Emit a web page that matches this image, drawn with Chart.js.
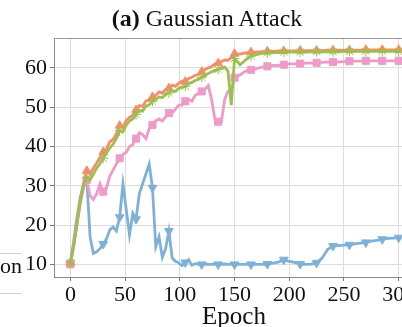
<!DOCTYPE html>
<html><head><meta charset="utf-8">
<script src="https://cdn.jsdelivr.net/npm/chart.js@4/dist/chart.umd.min.js"></script>
<style>
html,body{margin:0;padding:0;background:#fff;overflow:hidden;width:402px;height:327px}
#wrap{position:relative;width:402px;height:327px;overflow:hidden}
canvas{position:absolute;left:0;top:0}
#title{position:absolute;left:0;width:414px;top:5px;text-align:center;font-family:"Liberation Serif",serif;font-size:24px;line-height:26px;color:#111;white-space:nowrap}
#leg{position:absolute;left:-40px;top:253px;width:61px;height:39px;border-top:1px solid #d0d0d0;border-bottom:1px solid #d0d0d0}
#legtxt{position:absolute;left:0;top:254px;font-family:"Liberation Serif",serif;font-size:22px;line-height:24px;color:#111}
</style></head>
<body><div id="wrap">
<canvas id="c" width="420" height="327"></canvas>
<div id="title"><b>(a)</b> Gaussian Attack</div>
<div id="leg"></div><div id="legtxt">on</div>
</div>
<script>
const epochs=[0,3,6,9,12,15,18,21,24,27,30,33,36,39,42,45,48,51,54,57,60,63,66,69,72,75,78,81,84,87,90,93,96,99,102,105,108,111,114,117,120,123,126,129,132,135,138,141,144,147,150,155,160,165,170,175,180,185,190,195,200,205,210,215,220,225,230,235,240,245,250,255,260,265,270,275,280,285,290,295,300];
const orangeVals=[10.4,15,20.5,26,30.5,33.8,33,34.5,35.8,37.2,38.6,39.4,41.2,41.8,43.2,45.3,45,46.6,47.4,47.9,49.3,50.4,50.2,51.6,51.8,52.6,53,53.9,53.6,54.5,54.8,55.6,55.3,56.1,56.6,56.5,57.3,57.6,58.1,58.3,59,59.6,60,60.3,61,61.2,61.6,62,61.9,62.6,63.6,63.5,63.8,64,64,64.1,64.2,64.2,64.3,64.3,64.3,64.3,64.4,64.4,64.4,64.4,64.4,64.5,64.5,64.5,64.5,64.5,64.5,64.5,64.6,64.6,64.6,64.6,64.6,64.6,64.6];
const greenVals=[10.4,15,20.5,26,30,32,31.5,33,34.5,35.6,37,38.4,39.6,40.6,42,44,43.8,45.4,46.5,47,48.1,49.2,49,50.3,50.6,51.5,52,52.6,52.4,53.3,53.6,54.2,54,54.8,55.1,55.3,56,56.3,56.8,57.1,57.6,58,58.6,59,59.3,59.6,60,60.2,59.2,50.5,62.4,60.8,62,63,63.4,63.7,63.8,63.9,63.9,64,64,64,64,64,64.1,64.1,64.1,64.1,64.1,64.1,64.2,64.2,64.2,64.2,64.2,64.2,64.2,64.2,64.2,64.2,64.2];
const pinkVals=[10,14.5,20,25.5,29.5,31.5,27.5,26.5,28,30.5,28.5,29.5,32.5,34,35.5,37,38,38.5,40,40.5,42,43.5,43,42,44.5,45.5,46.5,47,46.5,47.5,48.5,48.5,49.5,50.5,50.5,51.5,52,51.5,53,53.5,54,54.5,55.5,52,47,46.3,46.3,52,54,54.2,57.5,58.2,59.2,59.5,59.8,60.2,60.4,60.6,60.6,60.8,61,61,61.1,61.2,61.2,61.3,61.4,61.5,61.5,61.5,61.6,61.7,61.7,61.7,61.8,61.8,61.8,61.8,61.8,61.8,61.8];
const blueVals=[10.4,16,22,27,30.5,31.5,17,12.8,13.2,14,15.2,16.5,18.8,19.5,18.5,22,30.5,24,17.5,23,21.5,28,30.5,33,35.5,29.5,14.5,17,11.8,14,18.5,11.6,10.8,10.4,9.7,10.5,11.2,9.8,10.2,10,10,10.1,10,10,10.1,10,10,10.1,10,10,10,10,10,10,10,10,10.1,10.3,10.6,11.2,10.8,10.5,10.1,10,10.1,10.4,11.6,13.8,14.7,14.8,14.9,15,15.2,15.4,15.6,15.9,16.1,16.4,16.6,16.7,16.8];
const xTicks=[0,50,100,150,200,250,300];
const yTicks=[10,20,30,40,50,60];

const pts=v=>epochs.map((e,i)=>({x:e,y:v[i]}));
const mk=r=>ctx=>(epochs[ctx.dataIndex]%15===0?r:0);
function ds(label,vals,color,style,order,rot){
  return {label,data:pts(vals),borderColor:color,backgroundColor:color,borderWidth:2.8,
    pointStyle:style,pointRadius:mk(5),pointHoverRadius:0,pointBorderWidth:1,pointBorderColor:color,
    pointRotation:rot||0,tension:0,order};
}
const font={family:'"Liberation Serif", serif',size:22};
const frame={id:'frame',afterDraw(c){const a=c.chartArea,x=c.ctx;x.save();x.strokeStyle='#999';x.lineWidth=1;
  x.beginPath();x.moveTo(a.left,a.top+0.5);x.lineTo(a.right,a.top+0.5);x.stroke();x.restore();}};
new Chart(document.getElementById('c'),{
  type:'line',
  data:{datasets:[
    ds('Series A',orangeVals,'#f68d68','triangle',1),
    ds('Series B',greenVals,'#9dbf4f','star',0),
    ds('Series C',pinkVals,'#ef9bc8','rect',2),
    ds('Series D',blueVals,'#7fb1d8','triangle',3,180)
  ]},
  options:{responsive:false,animation:false,devicePixelRatio:1,
    layout:{padding:{top:38,right:4.6,left:0,bottom:0}},
    plugins:{legend:{display:false},tooltip:{enabled:false}},
    scales:{
      x:{type:'linear',min:-15,max:314,
        afterBuildTicks:s=>{s.ticks=xTicks.map(v=>({value:v}));},
        afterFit:s=>{s.height=50;},
        ticks:{font,color:'#111',maxRotation:0,padding:1},
        grid:{color:'#dcdcdc',tickLength:4,tickColor:'#777'},
        border:{color:'#888'},
        title:{display:true,text:'Epoch',font:{family:'"Liberation Serif", serif',size:25},color:'#111',padding:{top:0,bottom:-5}}},
      y:{type:'linear',min:6.8,max:67.6,
        afterBuildTicks:s=>{s.ticks=yTicks.map(v=>({value:v}));},
        afterFit:s=>{s.width=54;},
        ticks:{font,color:'#111',padding:3},
        grid:{color:'#dcdcdc',tickLength:4,tickColor:'#777'},
        border:{color:'#888'}}
    }},
  plugins:[frame]
});
</script>
</body></html>
